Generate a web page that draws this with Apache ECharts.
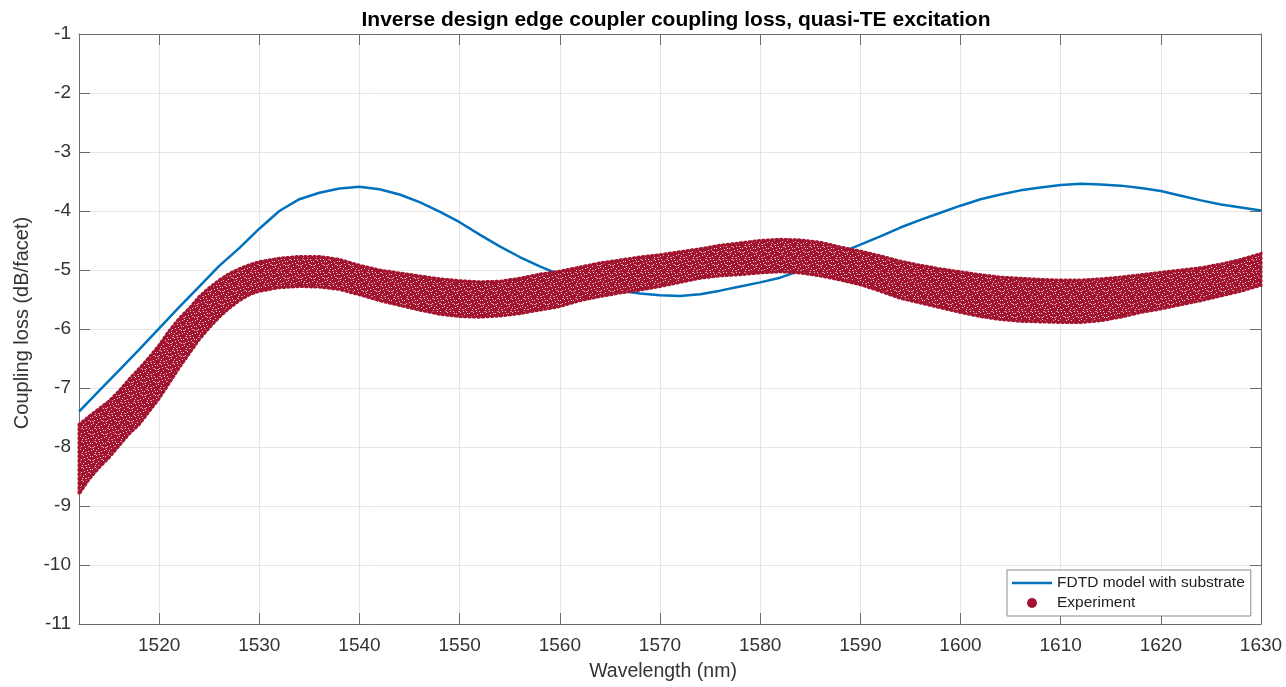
<!DOCTYPE html>
<html>
<head>
<meta charset="utf-8">
<script src="https://cdn.jsdelivr.net/npm/echarts@6/dist/echarts.min.js"></script>
<style>
html,body{margin:0;padding:0;background:#fff;}
#chart{width:1286px;height:687px;}
</style>
</head>
<body>
<div id="chart"></div>
<script>
// FDTD model (nm, dB/facet)
const fdtdX = [1512,1514,1516,1518,1520,1522,1524,1526,1528,1530,1532,1534,1536,1538,1540,1542,1544,1546,1548,1550,1552,1554,1556,1558,1560,1562,1564,1566,1568,1570,1572,1574,1576,1578,1580,1582,1584,1586,1588,1590,1592,1594,1596,1598,1600,1602,1604,1606,1608,1610,1612,1614,1616,1618,1620,1622,1624,1626,1628,1630];
const fdtdY = [-7.40,-7.05,-6.70,-6.35,-5.99,-5.63,-5.28,-4.93,-4.63,-4.30,-4.00,-3.80,-3.69,-3.62,-3.59,-3.63,-3.72,-3.85,-4.01,-4.19,-4.40,-4.60,-4.78,-4.94,-5.08,-5.20,-5.28,-5.35,-5.40,-5.43,-5.44,-5.41,-5.35,-5.28,-5.21,-5.13,-5.01,-4.88,-4.71,-4.57,-4.43,-4.28,-4.15,-4.03,-3.91,-3.80,-3.72,-3.65,-3.60,-3.56,-3.54,-3.55,-3.57,-3.61,-3.66,-3.74,-3.82,-3.89,-3.94,-3.99];

// Experiment: upper and lower edge of the measured point cloud
const expX   = [1512,1513,1514,1515,1516,1517,1518,1519,1520,1521,1522,1523,1524,1525,1526,1527,1528,1529,1530,1532,1534,1536,1538,1540,1542,1544,1546,1548,1550,1552,1554,1556,1558,1560,1562,1564,1566,1568,1570,1572,1574,1576,1578,1580,1582,1584,1586,1588,1590,1592,1594,1596,1598,1600,1602,1604,1606,1608,1610,1612,1614,1616,1618,1620,1622,1624,1626,1628,1630];
const expTop = [-7.62,-7.48,-7.35,-7.22,-7.05,-6.85,-6.67,-6.48,-6.27,-6.03,-5.82,-5.65,-5.45,-5.30,-5.17,-5.06,-4.98,-4.91,-4.86,-4.80,-4.77,-4.77,-4.82,-4.92,-5.00,-5.05,-5.10,-5.15,-5.18,-5.20,-5.19,-5.14,-5.07,-5.02,-4.95,-4.88,-4.83,-4.78,-4.74,-4.69,-4.64,-4.58,-4.54,-4.50,-4.48,-4.49,-4.53,-4.61,-4.68,-4.76,-4.85,-4.92,-4.98,-5.03,-5.08,-5.12,-5.14,-5.16,-5.17,-5.17,-5.15,-5.12,-5.08,-5.04,-5.00,-4.96,-4.90,-4.82,-4.72];
const expBot = [-8.80,-8.55,-8.35,-8.18,-7.98,-7.78,-7.62,-7.40,-7.18,-6.92,-6.66,-6.42,-6.18,-5.98,-5.80,-5.65,-5.52,-5.42,-5.36,-5.30,-5.28,-5.29,-5.33,-5.42,-5.52,-5.60,-5.68,-5.75,-5.79,-5.80,-5.78,-5.74,-5.68,-5.62,-5.52,-5.45,-5.39,-5.34,-5.28,-5.21,-5.14,-5.10,-5.08,-5.05,-5.03,-5.05,-5.10,-5.17,-5.25,-5.36,-5.48,-5.56,-5.64,-5.72,-5.79,-5.84,-5.87,-5.88,-5.89,-5.89,-5.86,-5.80,-5.72,-5.66,-5.59,-5.52,-5.44,-5.36,-5.26];

const X_MIN = 1512, X_MAX = 1630, Y_MIN = -11, Y_MAX = -1;

const RED = '#A2142F', BLUE = '#0072BD';
const FONT = '"Liberation Sans", Arial, Helvetica, sans-serif';

// speckle texture for the dense cloud of experiment markers (style only)
function makePattern() {
  const n = 13;
  const c = document.createElement('canvas');
  c.width = n; c.height = n;
  const g = c.getContext('2d');
  g.fillStyle = RED; g.fillRect(0, 0, n, n);
  g.fillStyle = 'rgba(250,240,242,0.85)';
  const holes = [[1,1],[5,0],[9,2],[12,5],[3,4],[7,6],[10,9],[0,8],[4,10],[8,12],[2,7],[11,12],[6,3],[12,1],[5,8]];
  holes.forEach(p => g.fillRect(p[0], p[1], 1, 1));
  g.fillStyle = 'rgba(250,240,242,0.55)';
  [[10,4],[3,12],[7,10],[1,5]].forEach(p => g.fillRect(p[0], p[1], 2, 1));
  return c;
}
const pattern = makePattern();

const chart = echarts.init(document.getElementById('chart'), null, {renderer: 'canvas'});

const gridLine = {show: true, lineStyle: {color: '#e6e6e6', width: 1}};
const axisLine = {show: true, lineStyle: {color: '#6b6b6b', width: 1}};
const tick = {show: true, inside: true, length: 11, lineStyle: {color: '#6b6b6b'}};

chart.setOption({
  backgroundColor: '#ffffff',
  animation: false,
  title: {
    text: 'Inverse design edge coupler coupling loss, quasi-TE excitation',
    left: 671, top: 5, textAlign: 'center',
    textStyle: {fontFamily: FONT, fontSize: 21, fontWeight: 'bold', color: '#000'}
  },
  grid: {left: 79, right: 25, top: 34, bottom: 61, containLabel: false},
  legend: {
    orient: 'vertical', left: 1007, top: 570,
    padding: [5, 6, 5, 5], itemGap: 4,
    itemWidth: 40, itemHeight: 10,
    borderColor: '#8a8a8a', borderWidth: 1, backgroundColor: '#ffffff',
    textStyle: {fontFamily: FONT, fontSize: 15.5, color: '#222', lineHeight: 16},
    data: [
      {name: 'FDTD model with substrate', icon: 'path://M0,0H40V2.5H0Z', itemStyle: {color: BLUE}},
      {name: 'Experiment', icon: 'circle', itemStyle: {color: RED}}
    ]
  },
  xAxis: [{
    type: 'value', min: X_MIN, max: X_MAX, splitNumber: 12,
    name: 'Wavelength (nm)', nameLocation: 'middle', nameGap: 38,
    nameTextStyle: {fontFamily: FONT, fontSize: 19.5, color: '#333', padding: [0, 14, 0, 0]},
    axisLine: axisLine, axisTick: tick, splitLine: gridLine,
    axisLabel: {fontFamily: FONT, fontSize: 19, color: '#333', margin: 12, showMinLabel: false,
      formatter: v => String(v)}
  }, {
    type: 'value', min: X_MIN, max: X_MAX, splitNumber: 12, position: 'top',
    axisLine: axisLine, axisTick: tick, splitLine: {show: false}, axisLabel: {show: false}
  }],
  yAxis: [{
    type: 'value', min: Y_MIN, max: Y_MAX, interval: 1,
    name: 'Coupling loss (dB/facet)', nameLocation: 'middle', nameGap: 40,
    nameTextStyle: {fontFamily: FONT, fontSize: 20, color: '#333', padding: [0, 0, 0, 12]},
    axisLine: axisLine, axisTick: tick, splitLine: gridLine,
    axisLabel: {fontFamily: FONT, fontSize: 19, color: '#333', margin: 8}
  }, {
    type: 'value', min: Y_MIN, max: Y_MAX, interval: 1, position: 'right',
    axisLine: axisLine, axisTick: tick, splitLine: {show: false}, axisLabel: {show: false}
  }],
  series: [{
    name: 'FDTD model with substrate', type: 'line',
    xAxisIndex: 0, yAxisIndex: 0,
    data: fdtdX.map((x, i) => [x, fdtdY[i]]),
    symbol: 'none', smooth: false,
    lineStyle: {color: BLUE, width: 2.5},
    itemStyle: {color: BLUE}, z: 2
  }, {
    name: 'Experiment', type: 'custom',
    xAxisIndex: 0, yAxisIndex: 0,
    coordinateSystem: 'cartesian2d',
    data: [[expX[0], expTop[0]]],
    itemStyle: {color: RED}, z: 3,
    renderItem: function (params, api) {
      const pts = [];
      for (let i = 0; i < expX.length; i++) pts.push(api.coord([expX[i], expTop[i]]));
      for (let i = expX.length - 1; i >= 0; i--) pts.push(api.coord([expX[i], expBot[i]]));
      return {
        type: 'polygon',
        shape: {points: pts},
        style: {fill: {image: pattern, repeat: 'repeat'}, stroke: RED, lineWidth: 3, lineDash: [1.5, 3], lineCap: 'round'}
      };
    }
  }]
});
</script>
</body>
</html>
